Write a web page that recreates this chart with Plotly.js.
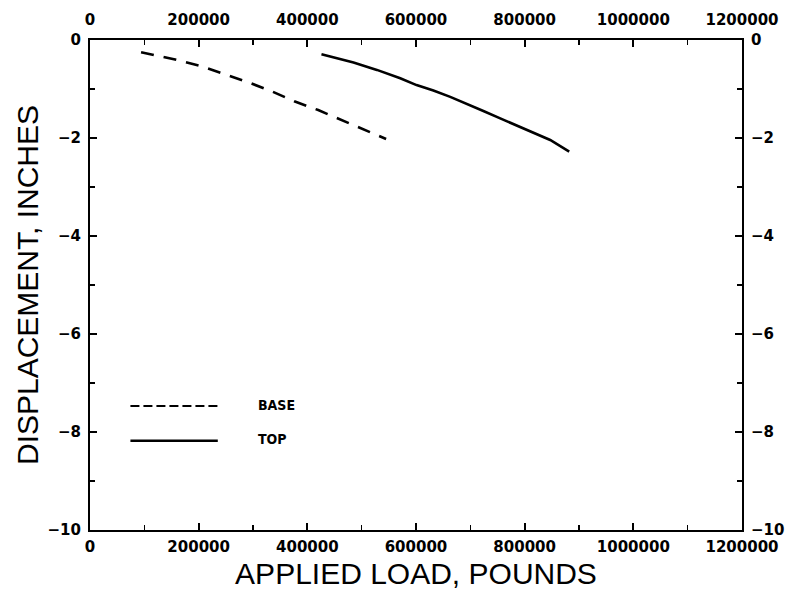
<!DOCTYPE html>
<html><head><meta charset="utf-8">
<script src="https://cdn.plot.ly/plotly-3.0.1.min.js"></script>
<style>html,body{margin:0;padding:0;background:#fff}</style>
</head><body><div id="chart" style="width:794px;height:593px"></div>
<script>
// Applied load (pounds) vs displacement (inches)
const baseLoad = [94000, 161000, 206000, 250000, 293000, 335000, 376000, 420000, 460000, 503000, 545000];
const baseDisp = [-0.25, -0.41, -0.54, -0.70, -0.87, -1.05, -1.25, -1.43, -1.62, -1.82, -2.02];
const topLoad = [426000, 485000, 528000, 571000, 601000, 632000, 663000, 693000, 724000, 755000, 791000, 816000, 847000, 882000];
const topDisp = [-0.29, -0.46, -0.61, -0.78, -0.92, -1.03, -1.16, -1.31, -1.45, -1.60, -1.77, -1.90, -2.04, -2.28];
const seriesNames = ['BASE', 'TOP'];
const xTickVals = [0, 200000, 400000, 600000, 800000, 1000000, 1200000];
const xTickText = ['0', '200000', '400000', '600000', '800000', '1000000', '1200000'];
const yTickVals = [0, -2, -4, -6, -8, -10];
const yTickText = ['0', '\u22122', '\u22124', '\u22126', '\u22128', '\u221210'];
const xTitle = 'APPLIED LOAD, POUNDS';
const yTitle = 'DISPLACEMENT, INCHES';

const tickFont = {family: 'DejaVu Sans', size: 15, color: '#000', weight: 'bold'};
const titleFont = {family: 'Liberation Sans', size: 30, color: '#000'};

// BASE drawn on bottom/left axes, TOP on the identical top/right axes
const traces = [
  {x: baseLoad, y: baseDisp, name: seriesNames[0], mode: 'lines', xaxis: 'x', yaxis: 'y',
   line: {color: '#000', width: 2.6, dash: '13px,10px'}, hoverinfo: 'skip'},
  {x: topLoad, y: topDisp, name: seriesNames[1], mode: 'lines', xaxis: 'x2', yaxis: 'y2',
   line: {color: '#000', width: 2.6}, hoverinfo: 'skip'}
];

const commonX = {
  range: [0, 1200000], tickmode: 'array', tickvals: xTickVals, ticktext: xTickText,
  showgrid: false, zeroline: false, showline: true, linecolor: '#000', linewidth: 2,
  ticks: 'inside', ticklen: 7, tickwidth: 2, tickcolor: '#000', tickfont: tickFont,
  minor: {tickmode: 'linear', tick0: 0, dtick: 100000, ticks: 'inside', ticklen: 5, tickwidth: 1.5, tickcolor: '#000'}
};
const commonY = {
  range: [-10, 0], tickmode: 'array', tickvals: yTickVals, ticktext: yTickText,
  showgrid: false, zeroline: false, showline: true, linecolor: '#000', linewidth: 2,
  ticks: 'inside', ticklen: 7, tickwidth: 2, tickcolor: '#000', tickfont: tickFont,
  minor: {tickmode: 'linear', tick0: 0, dtick: 1, ticks: 'inside', ticklen: 5, tickwidth: 1.5, tickcolor: '#000'}
};

const layout = {
  width: 794, height: 593,
  margin: {l: 90, r: 52, t: 40, b: 63},
  paper_bgcolor: '#fff', plot_bgcolor: '#fff',
  showlegend: false,
  xaxis: Object.assign({}, commonX, {side: 'bottom', ticklabelstandoff: 2,
    title: {text: xTitle, font: titleFont, standoff: 8}}),
  xaxis2: Object.assign({}, commonX, {side: 'top', overlaying: 'x', anchor: 'y2', ticklabelstandoff: 7}),
  yaxis: Object.assign({}, commonY, {side: 'left', ticklabelstandoff: 4,
    title: {text: yTitle, font: titleFont, standoff: 0}}),
  yaxis2: Object.assign({}, commonY, {side: 'right', overlaying: 'y', anchor: 'x2', ticklabelstandoff: 4}),
  shapes: [
    {type: 'line', xref: 'paper', yref: 'paper', x0: 0.062, x1: 0.196, y0: 0.253, y1: 0.253,
     line: {color: '#000', width: 2, dash: '9px,4px'}},
    {type: 'line', xref: 'paper', yref: 'paper', x0: 0.062, x1: 0.196, y0: 0.182, y1: 0.182,
     line: {color: '#000', width: 2.4}}
  ],
  annotations: [
    {xref: 'paper', yref: 'paper', x: 0.255, y: 0.256, xanchor: 'left', yanchor: 'middle', showarrow: false,
     text: seriesNames[0], font: {family: 'DejaVu Sans Condensed', size: 14, color: '#000', weight: 'bold'}},
    {xref: 'paper', yref: 'paper', x: 0.255, y: 0.185, xanchor: 'left', yanchor: 'middle', showarrow: false,
     text: seriesNames[1], font: {family: 'DejaVu Sans Condensed', size: 14, color: '#000', weight: 'bold'}}
  ]
};

Plotly.newPlot('chart', traces, layout, {staticPlot: true, displayModeBar: false});
</script>
</body></html>
